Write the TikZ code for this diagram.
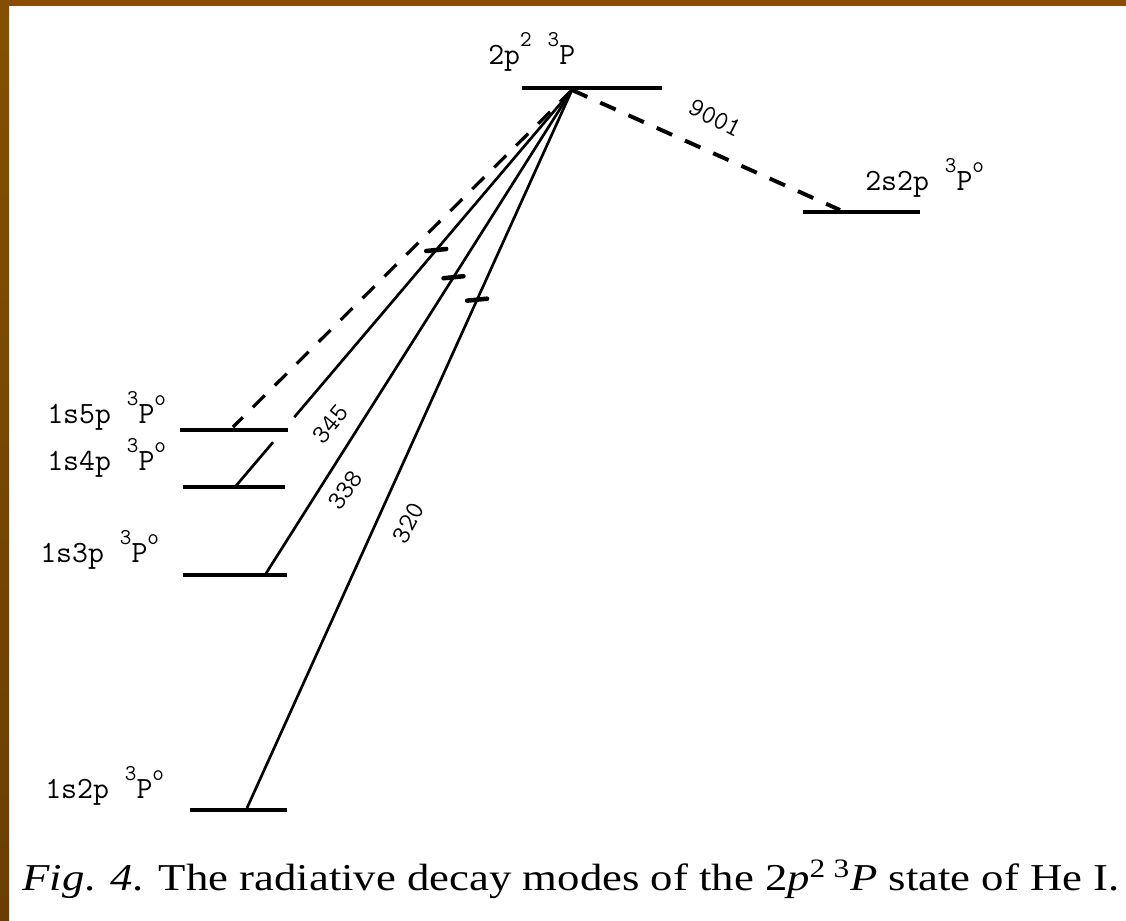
\documentclass[tikz,border=0pt]{standalone}
\usepackage{fontspec}
\usetikzlibrary{calc}
\newfontfamily\capfont{Liberation Serif}
\definecolor{FrameBrown}{HTML}{845000}
\definecolor{FrameGold}{HTML}{A36C00}
\definecolor{FrameDark}{HTML}{6A3E00}
\newcommand{\upidx}[1]{\raisebox{.55em}{\fontsize{16}{16}\selectfont #1}}
\tikzset{
  level/.style={line width=2.3pt},
  decay/.style={line width=1.9pt},
  decaydash/.style={line width=2.8pt,dash pattern=on 12pt off 10pt},
  tickmark/.style={line width=3.2pt,line cap=round},
  lvllabel/.style={anchor=base west,inner sep=0pt,font=\ttfamily\fontsize{22}{24}\selectfont},
  wavelabel/.style={inner sep=0pt,font=\ttfamily\fontsize{19}{22}\selectfont}
}

\begin{document}
\begin{tikzpicture}[x=.025cm,y=-.025cm]
\useasboundingbox (0,0) rectangle (1126,921);
\fill[white] (0,0) rectangle (1126,921);
\shade[top color=FrameBrown,middle color=FrameGold,bottom color=FrameDark] (0,0) rectangle (9,921);
\fill[FrameBrown] (0,0) rectangle (1126,6);
% energy levels
\foreach \xa/\xb/\y in {522/662/88, 803/920/212, 180/288/430, 183/285/487, 183/287/575, 190/287/810} {
  \draw[level] (\xa,\y) -- (\xb,\y);
}
% decay end points
\coordinate (top) at (572,90);
\coordinate (s2) at (840,210);
\coordinate (p5) at (233,427);
\coordinate (p4) at (235,487);
\coordinate (p3) at (265,575);
\coordinate (p2) at (247,808);
\draw[decaydash] (top) -- (s2);
\draw[decaydash,line width=2.3pt] (top) -- (p5);
\draw[decay] (top) -- ($(top)!0.824!(p4)$);
\draw[decay] ($(top)!0.887!(p4)$) -- (p4);
\draw[decay] (top) -- (p3);
\draw[decay] (top) -- (p2);
\foreach \e/\t in {p4/0.403, p3/0.386, p2/0.292} {
  \draw[tickmark] ($(top)!\t!(\e)$) +(-10,1) -- +(10,-1);
}
% level labels
\node[lvllabel] (lup) at (488,64) {2p\upidx{2} \upidx{3}P};
\node[lvllabel] (ls2) at (865,190) {2s2p \upidx{3}P\upidx{o}};
\node[lvllabel] (l5) at (47,423) {1s5p \upidx{3}P\upidx{o}};
\node[lvllabel] (l4) at (47,470) {1s4p \upidx{3}P\upidx{o}};
\node[lvllabel] (l3) at (40,562) {1s3p \upidx{3}P\upidx{o}};
\node[lvllabel] (l2) at (45,798) {1s2p \upidx{3}P\upidx{o}};
% wavelengths
\node[wavelabel,rotate=50] (w345) at (330,424) {345};
\node[wavelabel,rotate=55] (w338) at (345,490) {338};
\node[wavelabel,rotate=62] (w320) at (408,523) {320};
\node[wavelabel,rotate=-27] (w9001) at (715,118) {9001};
\node[anchor=base west,inner sep=0pt,xscale=1.178,font=\capfont\fontsize{27}{30}\selectfont] (cap) at (22,890)
  {\textit{Fig}. \textit{4}. The radiative decay modes of the 2\textit{p}\textsuperscript{2}\,\textsuperscript{3}\textit{P} state of He I.};
\end{tikzpicture}
\end{document}
